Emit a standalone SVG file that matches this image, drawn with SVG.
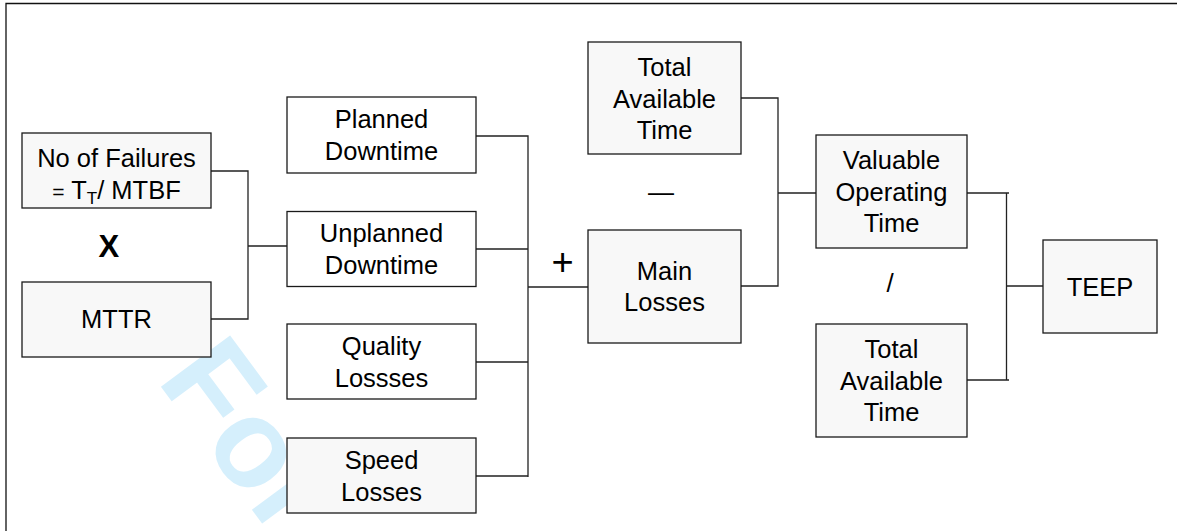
<svg xmlns="http://www.w3.org/2000/svg" width="1177" height="531" viewBox="0 0 1177 531">
<style>
.box{stroke:#1a1a1a;stroke-width:1.3;fill:#f8f8f8}
.wbox{stroke:#1a1a1a;stroke-width:1.3;fill:#ffffff}
.t{font-family:"Liberation Sans",Arial,sans-serif;font-size:25.5px;fill:#000;text-anchor:middle}
.op{font-family:"Liberation Sans",Arial,sans-serif;font-size:26px;fill:#000;text-anchor:middle}
.ln{stroke:#222;stroke-width:1.3;fill:none}
.wm{font-family:"Liberation Sans",Arial,sans-serif;font-weight:bold;font-size:125px;fill:#d5effc}
</style>
<rect width="1177" height="531" fill="#ffffff"/>
<path d="M6,531 V3.5 H1177" stroke="#111" stroke-width="1.3" fill="none"/>
<text class="wm" transform="translate(156,380) rotate(53.5)">For</text>
<g id="connectors">
<path class="ln" d="M211,171 H248 V319 H211 M248,246 H287"/>
<path class="ln" d="M476,136 H528 V477 M476,249 H528 M476,362 H528 M476,476 H528 M528,287 H588"/>
<path class="ln" d="M741,98 H778 V286 H741 M778,193 H816"/>
<path class="ln" d="M967,193 H1009 M1006.5,193 V380 M967,380 H1009 M1006.5,286 H1043"/>
</g>
<g id="n-failures"><rect class="box" x="22" y="133" width="189" height="75"/>
<text class="t" x="116.5" y="167">No of Failures</text>
<text class="t" x="116.5" y="199"><tspan style="font-size:21px">=</tspan> T<tspan dy="5" style="font-size:17px">T</tspan><tspan dy="-5">/ MTBF</tspan></text></g>
<g id="op-times"><text class="op" x="108.8" y="256.5" style="font-size:31px;font-weight:bold">X</text></g>
<g id="n-mttr"><rect class="box" x="22" y="282" width="189" height="75"/>
<text class="t" x="116.5" y="328">MTTR</text></g>
<g id="n-planned"><rect class="wbox" x="287" y="97" width="189" height="76"/>
<text class="t" x="381.5" y="128">Planned</text><text class="t" x="381.5" y="160">Downtime</text></g>
<g id="n-unplanned"><rect class="wbox" x="287" y="211.5" width="189" height="75"/>
<text class="t" x="381.5" y="242">Unplanned</text><text class="t" x="381.5" y="274">Downtime</text></g>
<g id="n-quality"><rect class="wbox" x="287" y="324" width="189" height="75"/>
<text class="t" x="381.5" y="355">Quality</text><text class="t" x="381.5" y="387">Lossses</text></g>
<g id="n-speed"><rect class="box" x="287" y="438" width="189" height="75"/>
<text class="t" x="381.5" y="469">Speed</text><text class="t" x="381.5" y="501">Losses</text></g>
<g id="op-plus"><text class="op" x="562.5" y="275" style="font-size:38px">+</text></g>
<g id="n-total1"><rect class="box" x="588" y="42" width="153" height="112"/>
<text class="t" x="664.5" y="76">Total</text><text class="t" x="664.5" y="108">Available</text><text class="t" x="664.5" y="139">Time</text></g>
<g id="op-minus"><text class="op" x="661" y="201">—</text></g>
<g id="n-main"><rect class="box" x="588" y="230" width="153" height="113"/>
<text class="t" x="664.5" y="280">Main</text><text class="t" x="664.5" y="311">Losses</text></g>
<g id="n-valuable"><rect class="box" x="816" y="135" width="151" height="113"/>
<text class="t" x="891.5" y="169">Valuable</text><text class="t" x="891.5" y="201">Operating</text><text class="t" x="891.5" y="232">Time</text></g>
<g id="op-div"><text class="op" x="890" y="292">/</text></g>
<g id="n-total2"><rect class="box" x="816" y="324" width="151" height="113"/>
<text class="t" x="891.5" y="358">Total</text><text class="t" x="891.5" y="390">Available</text><text class="t" x="891.5" y="421">Time</text></g>
<g id="n-teep"><rect class="box" x="1043" y="240" width="114" height="93"/>
<text class="t" x="1100" y="296">TEEP</text></g>
</svg>
